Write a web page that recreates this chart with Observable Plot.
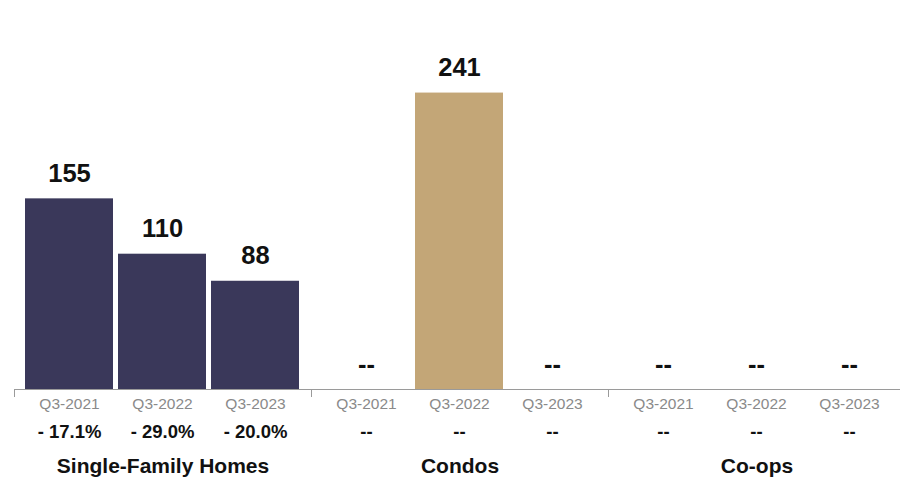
<!DOCTYPE html>
<html>
<head>
<meta charset="utf-8">
<script src="https://cdn.jsdelivr.net/npm/d3@7"></script>
<script src="https://cdn.jsdelivr.net/npm/@observablehq/plot@0.6"></script>
<style>
  html, body { margin: 0; padding: 0; background: #fff; }
  #chart { width: 900px; height: 478px; overflow: hidden; }
</style>
</head>
<body>
<div id="chart"></div>
<script>
const groups = ["Single-Family Homes", "Condos", "Co-ops"];
const quarters = ["Q3-2021", "Q3-2022", "Q3-2023"];
const sfhValues = [155, 110, 88];
const condoValues = [null, 241, null];
const coopValues = [null, null, null];
const sfhChanges = ["- 17.1%", "- 29.0%", "- 20.0%"];
const condoChanges = ["--", "--", "--"];
const coopChanges = ["--", "--", "--"];
const groupColors = ["#3a385a", "#c3a677", "#999999"];

const valuesByGroup = [sfhValues, condoValues, coopValues];
const changesByGroup = [sfhChanges, condoChanges, coopChanges];
const rows = [];
groups.forEach((g, gi) => {
  quarters.forEach((q, qi) => {
    const v = valuesByGroup[gi][qi];
    rows.push({
      group: g,
      quarter: q,
      value: v,
      label: v == null ? "--" : String(v),
      change: changesByGroup[gi][qi]
    });
  });
});

const height = 478, marginTop = 20, marginBottom = 89;
const plotHeight = height - marginTop - marginBottom;

const chart = Plot.plot({
  width: 900,
  height,
  marginLeft: 14,
  marginRight: -5,
  marginTop,
  marginBottom,
  style: { fontFamily: "'Liberation Sans', Arial, Helvetica, sans-serif", background: "#fff", overflow: "visible" },
  fx: { domain: groups, padding: 0, axis: null },
  x: { domain: quarters, paddingInner: 0.05, paddingOuter: 0.107, axis: null },
  y: { domain: [0, 300], axis: null },
  color: { domain: groups, range: groupColors },
  marks: [
    Plot.barY(rows.filter(d => d.value != null), { fx: "group", x: "quarter", y: "value", fill: "group" }),
    Plot.ruleY([0], { stroke: "#9a9a9a", strokeWidth: 1 }),
    Plot.frame({ anchor: "left", stroke: "#9a9a9a", insetTop: plotHeight, insetBottom: -7 }),
    Plot.text(rows, {
      fx: "group", x: "quarter", y: d => d.value ?? 0, text: "label",
      dy: -25, lineAnchor: "middle", fontSize: 25.5, fontWeight: "bold", fill: "#111"
    }),
    Plot.text(rows, {
      fx: "group", x: "quarter", text: "quarter", frameAnchor: "bottom",
      dy: 15, lineAnchor: "middle", fontSize: 15.5, fill: "#8a8a8a"
    }),
    Plot.text(rows, {
      fx: "group", x: "quarter", text: "change", frameAnchor: "bottom",
      dy: 43, lineAnchor: "middle", fontSize: 18.5, fontWeight: "bold", fill: "#111"
    }),
    Plot.text(groups, {
      fx: d => d, text: d => d, frameAnchor: "bottom",
      dy: 77, lineAnchor: "middle", fontSize: 21, fontWeight: "bold", fill: "#111"
    })
  ]
});
document.getElementById("chart").appendChild(chart);
</script>
</body>
</html>
